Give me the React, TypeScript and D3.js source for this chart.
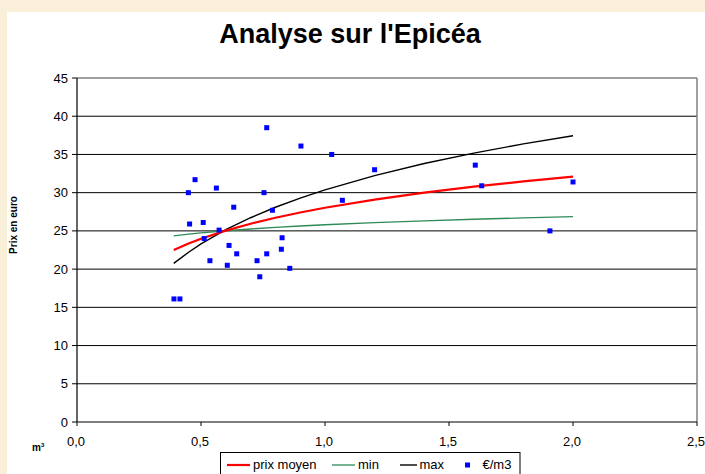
import React from 'react';
import * as d3 from 'd3';

// scatter: €/m3 per lot
const volumes = [0.391, 0.415, 0.449, 0.454, 0.476, 0.509, 0.513, 0.536, 0.562, 0.573, 0.606, 0.613, 0.632, 0.644, 0.726, 0.737, 0.754, 0.765, 0.765, 0.788, 0.824, 0.827, 0.858, 0.903, 1.027, 1.07, 1.2, 1.606, 1.632, 1.907, 2.0];
const prices = [16.1, 16.1, 30.0, 25.9, 31.7, 26.1, 24.0, 21.1, 30.6, 25.1, 20.5, 23.1, 28.1, 22.0, 21.1, 19.0, 30.0, 38.5, 22.0, 27.7, 22.6, 24.1, 20.1, 36.1, 35.0, 29.0, 33.0, 33.6, 30.9, 25.0, 31.4];

// trend curves
const curveX = [0.39, 0.45, 0.5, 0.6, 0.7, 0.8, 0.9, 1.0, 1.2, 1.4, 1.6, 1.8, 2.0];
const prixMoyen = [22.51, 23.35, 23.97, 25.04, 25.94, 26.72, 27.41, 28.03, 29.1, 30.0, 30.78, 31.47, 32.09];
const prixMin = [24.36, 24.58, 24.74, 25.02, 25.25, 25.46, 25.64, 25.8, 26.08, 26.31, 26.52, 26.7, 26.86];
const prixMax = [20.75, 22.21, 23.29, 25.15, 26.72, 28.09, 29.29, 30.37, 32.23, 33.81, 35.17, 36.38, 37.45];

const yTicks = [0, 5, 10, 15, 20, 25, 30, 35, 40, 45];
const xTicks = [0, 0.5, 1.0, 1.5, 2.0, 2.5];

const W = 705;
const H = 474;
const font = 'Liberation Sans, Arial, sans-serif';

export default function App() {
  const x = d3.scaleLinear().domain([0, 2.5]).range([77, 697]);
  const y = d3.scaleLinear().domain([0, 45]).range([422, 78]);

  const line = (vals: number[]) =>
    d3.line<number>()
      .x((_, i) => x(curveX[i]))
      .y(d => y(d))(vals) as string;

  const fmt = (v: number) => v.toFixed(1).replace('.', ',');

  return (
    <svg width={W} height={H} style={{ position: 'absolute', left: 0, top: 0 }} fontFamily={font}>
      <rect x={0} y={0} width={W} height={H} fill="#FAEFD9" />
      <rect x={7} y={12} width={W - 7} height={H - 12} fill="#fff" />

      <text x={350} y={43} textAnchor="middle" fontSize={27} fontWeight="bold">Analyse sur l'Epicéa</text>

      {/* grid */}
      {yTicks.filter(t => t > 0 && t < 45).map(t => (
        <line key={t} x1={x(0)} x2={x(2.5)} y1={y(t)} y2={y(t)} stroke="#000" strokeWidth={1} />
      ))}
      {/* plot border */}
      <line x1={x(0)} x2={x(2.5)} y1={y(45)} y2={y(45)} stroke="#808080" strokeWidth={1.5} />
      <line x1={x(2.5)} x2={x(2.5)} y1={y(45)} y2={y(0)} stroke="#808080" strokeWidth={1.5} />

      {/* axes */}
      <line x1={x(0)} x2={x(0)} y1={y(45)} y2={y(0)} stroke="#000" strokeWidth={1.2} />
      <line x1={x(0)} x2={x(2.5)} y1={y(0)} y2={y(0)} stroke="#000" strokeWidth={1.2} />
      {yTicks.map(t => (
        <g key={t}>
          <line x1={x(0) - 5} x2={x(0)} y1={y(t)} y2={y(t)} stroke="#000" />
          <text x={68} y={y(t)} dy="0.35em" textAnchor="end" fontSize={13}>{t}</text>
        </g>
      ))}
      {xTicks.map(t => (
        <g key={t}>
          <line x1={x(t)} x2={x(t)} y1={y(0)} y2={y(0) + 4} stroke="#000" />
          <text x={x(t) - 1} y={446} textAnchor="middle" fontSize={13}>{fmt(t)}</text>
        </g>
      ))}

      <text transform={`translate(17,225) rotate(-90)`} textAnchor="middle" fontSize={10} fontWeight="bold">Prix en euro</text>
      <text x={32} y={451} fontSize={10} fontWeight="bold">m<tspan dy={-4} fontSize={6}>3</tspan></text>

      {/* curves */}
      <path d={line(prixMin)} fill="none" stroke="#2E8B57" strokeWidth={1.3} />
      <path d={line(prixMax)} fill="none" stroke="#000" strokeWidth={1.4} />
      <path d={line(prixMoyen)} fill="none" stroke="#FF0000" strokeWidth={2.2} />

      {volumes.map((v, i) => (
        <rect key={i} x={x(v) - 2.5} y={y(prices[i]) - 2.5} width={5} height={5} fill="#0000FF" />
      ))}

      {/* legend */}
      <rect x={220.5} y={452.5} width={299.5} height={30} fill="#fff" stroke="#000" strokeWidth={1} />
      <line x1={227} x2={250} y1={465} y2={465} stroke="#FF0000" strokeWidth={2.2} />
      <text x={253} y={469} fontSize={13}>prix moyen</text>
      <line x1={332} x2={355} y1={465} y2={465} stroke="#2E8B57" strokeWidth={1.3} />
      <text x={358} y={469} fontSize={13}>min</text>
      <line x1={400} x2={417} y1={465} y2={465} stroke="#000" strokeWidth={1.4} />
      <text x={419.5} y={469} fontSize={13}>max</text>
      <rect x={465} y={462.5} width={5} height={5} fill="#0000FF" />
      <text x={482.5} y={469} fontSize={13}>€/m3</text>
    </svg>
  );
}
